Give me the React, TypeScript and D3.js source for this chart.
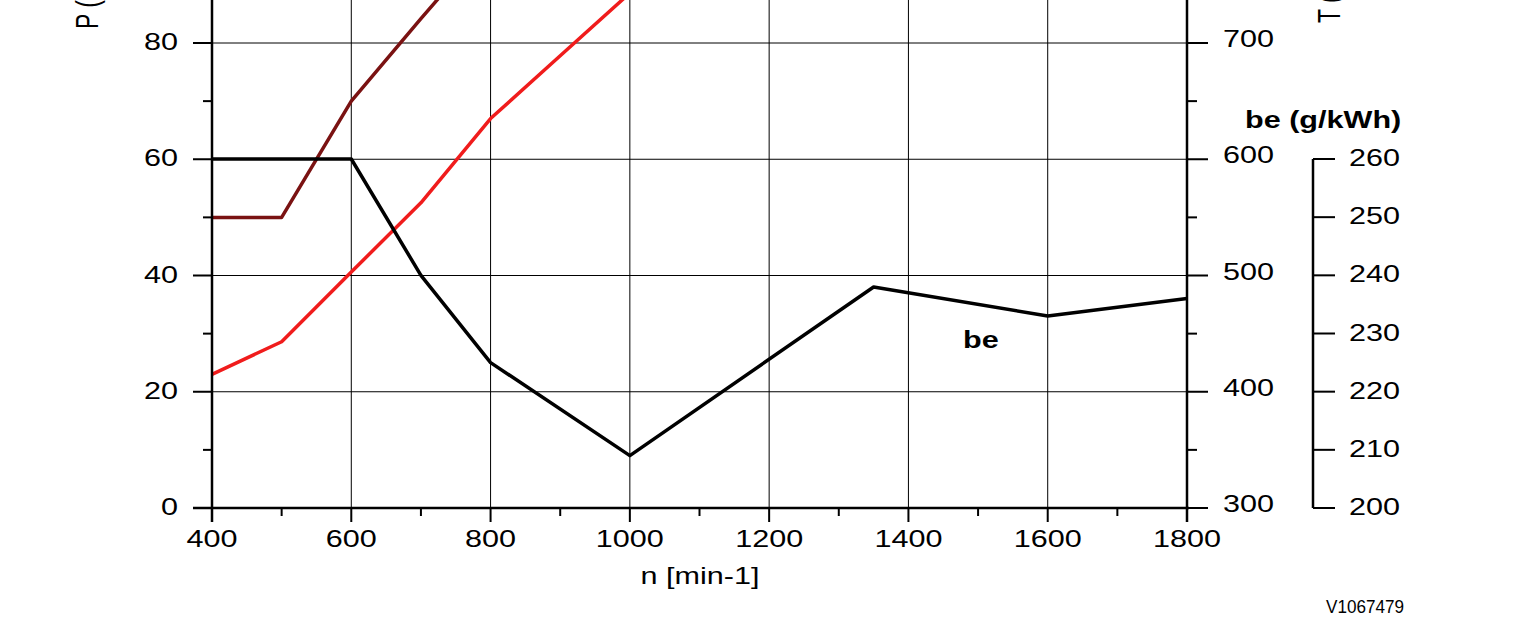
import React from "react";
import * as d3 from "d3";

// engine curves
const rpm = [400, 500, 600, 700, 800, 900, 1000];
const powerKw = [23, 28.6, 40.6, 52.5, 67, 77.8, 88.6];

const torqueRpm = [400, 500, 600, 700, 800];
const torqueNm = [550, 550, 650, 721, 790];

const beRpm = [400, 500, 600, 700, 800, 1000, 1350, 1600, 1800];
const beValues = [260, 260, 260, 240, 225, 209, 238, 233, 236];

const nTicks = [400, 600, 800, 1000, 1200, 1400, 1600, 1800];
const nMinor = [500, 700, 900, 1100, 1300, 1500, 1700];
const pTicks = [0, 20, 40, 60, 80];
const pMinor = [10, 30, 50, 70, 90];
const tTicks = [300, 400, 500, 600, 700];
const tMinor = [350, 450, 550, 650, 750];
const beTicks = [200, 210, 220, 230, 240, 250, 260];

const SX = 1.33; // the original is stretched horizontally
const FONT = "'Liberation Sans', Arial, sans-serif";

const Txt: React.FC<{
  x: number;
  y: number;
  anchor?: string;
  size?: number;
  bold?: boolean;
  rotate?: boolean;
  children: React.ReactNode;
}> = ({ x, y, anchor = "start", size = 23, bold, rotate, children }) => (
  <text
    transform={`translate(${x},${y}) scale(${SX},1)${rotate ? " rotate(-90)" : ""}`}
    textAnchor={anchor}
    fontSize={size}
    fontWeight={bold ? "bold" : "normal"}
    fontFamily={FONT}
    fill="#000"
  >
    {children}
  </text>
);

export default function App() {
  const x = d3.scaleLinear().domain([400, 1800]).range([212, 1187]);
  const yP = d3.scaleLinear().domain([0, 80]).range([508, 43]);
  const yT = d3.scaleLinear().domain([300, 700]).range([508, 43]);
  const yBe = d3.scaleLinear().domain([200, 260]).range([508, 159]);

  const left = x(400);
  const right = x(1800);
  const bottom = yP(0);
  const top = yP(100);
  const beX = 1313;

  const line = d3.line<[number, number]>();
  const powerPath = line(rpm.map((n, i) => [x(n), yP(powerKw[i])]));
  const torquePath = line(torqueRpm.map((n, i) => [x(n), yT(torqueNm[i])]));
  const bePath = line(beRpm.map((n, i) => [x(n), yBe(beValues[i])]));

  return (
    <svg
      width={1536}
      height={640}
      style={{ position: "absolute", left: 0, top: 0, background: "#fff" }}
    >
      <rect width={1536} height={640} fill="#fff" />

      {/* grid */}
      {nTicks.slice(1, -1).map((n) => (
        <line key={"gx" + n} x1={x(n)} x2={x(n)} y1={bottom} y2={top} stroke="#000" strokeWidth={1} />
      ))}
      {[...pTicks.slice(1), 100].map((p) => (
        <line key={"gy" + p} x1={left} x2={right} y1={yP(p)} y2={yP(p)} stroke="#000" strokeWidth={1} />
      ))}

      {/* curves */}
      <path d={torquePath ?? ""} fill="none" stroke="#7a1212" strokeWidth={3.5} strokeLinejoin="round" />
      <path d={powerPath ?? ""} fill="none" stroke="#f01c1c" strokeWidth={3.5} strokeLinejoin="round" />
      <path d={bePath ?? ""} fill="none" stroke="#000" strokeWidth={3.5} strokeLinejoin="round" />

      {/* x axis */}
      <line x1={left - 19} x2={right + 2} y1={bottom} y2={bottom} stroke="#000" strokeWidth={2.5} />
      {nTicks.map((n) => (
        <g key={"xt" + n}>
          <line x1={x(n)} x2={x(n)} y1={bottom} y2={bottom + 14} stroke="#000" strokeWidth={2} />
          <Txt x={x(n)} y={547} anchor="middle">
            {n}
          </Txt>
        </g>
      ))}
      {nMinor.map((n) => (
        <line key={"xm" + n} x1={x(n)} x2={x(n)} y1={bottom} y2={bottom + 8} stroke="#000" strokeWidth={2} />
      ))}
      <Txt x={700} y={584} anchor="middle">
        n [min-1]
      </Txt>

      {/* left P axis */}
      <line x1={left} x2={left} y1={bottom + 14} y2={top} stroke="#000" strokeWidth={2.5} />
      {pTicks.map((p) => (
        <g key={"pt" + p}>
          <line x1={left - 19} x2={left} y1={yP(p)} y2={yP(p)} stroke="#000" strokeWidth={2} />
          <Txt x={178} y={yP(p) + 7} anchor="end">
            {p}
          </Txt>
        </g>
      ))}
      {pMinor.map((p) => (
        <line key={"pm" + p} x1={left - 9} x2={left} y1={yP(p)} y2={yP(p)} stroke="#000" strokeWidth={2} />
      ))}
      <Txt x={98} y={29} rotate>
        P (
      </Txt>

      {/* right T axis */}
      <line x1={right} x2={right} y1={bottom + 14} y2={top} stroke="#000" strokeWidth={2.5} />
      {tTicks.map((t) => (
        <g key={"tt" + t}>
          <line x1={right} x2={right + 21} y1={yT(t)} y2={yT(t)} stroke="#000" strokeWidth={2} />
          <Txt x={1223} y={yT(t) + 4}>
            {t}
          </Txt>
        </g>
      ))}
      {tMinor.map((t) => (
        <line key={"tm" + t} x1={right} x2={right + 10} y1={yT(t)} y2={yT(t)} stroke="#000" strokeWidth={2} />
      ))}
      <Txt x={1340} y={23} rotate>
        T (
      </Txt>

      {/* be axis */}
      <line x1={beX} x2={beX} y1={yBe(200)} y2={yBe(260)} stroke="#000" strokeWidth={2.5} />
      {beTicks.map((b) => (
        <g key={"bt" + b}>
          <line x1={beX} x2={beX + 22} y1={yBe(b)} y2={yBe(b)} stroke="#000" strokeWidth={2} />
          <Txt x={1349} y={yBe(b) + 7}>
            {b}
          </Txt>
        </g>
      ))}
      <Txt x={1245} y={128} bold>
        be (g/kWh)
      </Txt>

      <Txt x={963} y={348} bold>
        be
      </Txt>

      <text x={1365} y={613} textAnchor="middle" fontSize={18} fontFamily={FONT} textLength={78} lengthAdjust="spacingAndGlyphs">
        V1067479
      </text>
    </svg>
  );
}
